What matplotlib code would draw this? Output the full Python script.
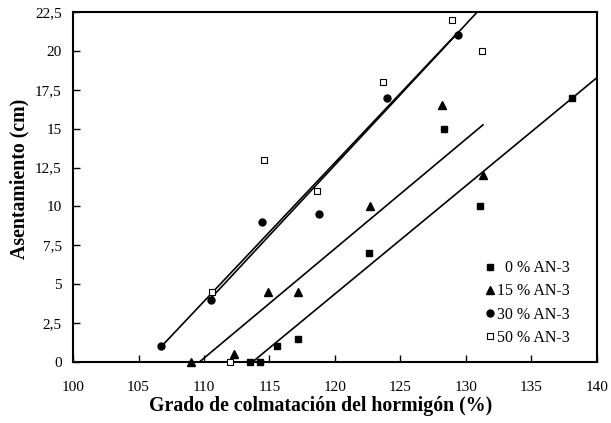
import numpy as np
import matplotlib
matplotlib.use("Agg")
import matplotlib.pyplot as plt
from matplotlib.lines import Line2D

plt.rcParams['font.family'] = ['Liberation Serif', 'DejaVu Serif']

# Measured points (grado de colmatacion %, asentamiento cm)
x_an0 = [113.5, 114.3, 115.6, 117.2, 122.6, 128.3, 131.1, 138.1]
y_an0 = [0, 0, 1, 1.5, 7, 15, 10, 17]

x_an15 = [109.0, 112.3, 114.9, 117.2, 122.7, 128.2, 131.3]
y_an15 = [0, 0.5, 4.5, 4.5, 10, 16.5, 12]

x_an30 = [106.7, 110.5, 114.4, 118.8, 124.0, 129.4]
y_an30 = [1, 4, 9, 9.5, 17, 21]

x_an50 = [112.0, 110.6, 114.6, 118.6, 123.7, 128.9, 131.2]
y_an50 = [0, 4.5, 13, 11, 18, 22, 20]

# Trend lines: slope, intercept, x range
trend_slope = [0.695, 0.704, 0.892, 0.905]
trend_icept = [-79.02, -77.19, -94.22, -95.93]
trend_xmin = [113.7, 109.0, 106.7, 110.6]
trend_xmax = [140.0, 131.3, 129.4, 131.2]

labels = ["  0 % AN-3", "15 % AN-3", "30 % AN-3", "50 % AN-3"]
xticks = [100, 105, 110, 115, 120, 125, 130, 135, 140]
yticks = [0, 2.5, 5, 7.5, 10, 12.5, 15, 17.5, 20, 22.5]
ytick_labels = ["0", "2,5", "5", "7,5", "10", "12,5", "15", "17,5", "20", "22,5"]

fig = plt.figure(figsize=(6.11, 4.23), dpi=100)
ax = fig.add_axes([0.1195, 0.1442, 0.8575, 0.8274])

series = [
    (x_an0, y_an0, dict(marker='s', ms=4.6, mfc='black', mec='black')),
    (x_an15, y_an15, dict(marker='^', ms=5.2, mfc='black', mec='black')),
    (x_an30, y_an30, dict(marker='o', ms=5.0, mfc='black', mec='black')),
    (x_an50, y_an50, dict(marker='s', ms=4.6, mfc='white', mec='black', mew=0.8)),
]

for i in range(len(series)):
    xx = np.array([trend_xmin[i], trend_xmax[i]])
    ax.plot(xx, trend_slope[i] * xx + trend_icept[i], color='black', lw=1.2, zorder=2)

handles = []
for (xs, ys, st), lab in zip(series, labels):
    ax.plot(xs, ys, linestyle='none', clip_on=False, zorder=3, **st)
    handles.append(Line2D([], [], linestyle='none', label=lab, **st))

ax.set_xlim(100, 140)
ax.set_ylim(0, 22.5)
ax.set_xticks(xticks)
ax.set_yticks(yticks)
ax.set_yticklabels(ytick_labels)
ax.tick_params(direction='in', length=5, width=1, labelsize=11, pad=8)
ax.tick_params(axis='x', pad=13.5)
for sp in ax.spines.values():
    sp.set_linewidth(1.5)

ax.set_xlabel("Grado de colmatación del hormigón (%)", fontsize=14.3, fontweight='bold')
ax.set_ylabel("Asentamiento (cm)", fontsize=14.3, fontweight='bold')
ax.xaxis.set_label_coords(0.473, -0.098)
ax.yaxis.set_label_coords(-0.083, 0.524)

ax.legend(handles=handles, loc='lower right', bbox_to_anchor=(0.96, 0.028), frameon=False,
          fontsize=11.5, handlelength=0.5, handletextpad=0.2, labelspacing=0.45, borderaxespad=0)

fig.savefig("out.png", dpi=100)
